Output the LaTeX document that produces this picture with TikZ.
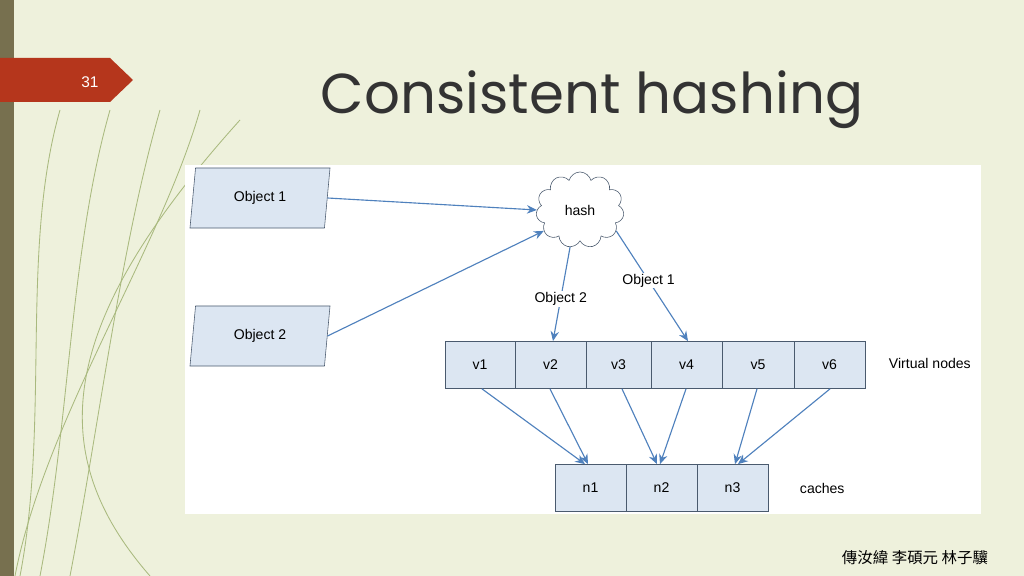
\documentclass[tikz,border=0pt]{standalone}
\usepackage{fontspec}
\setmainfont{Liberation Sans}
\newfontfamily\titlefont{Poppins}
\newfontfamily\cjk{Noto Sans CJK TC}
\usetikzlibrary{shapes.geometric,shapes.symbols,arrows.meta}
\definecolor{slidebg}{HTML}{EEF1DC}
\definecolor{barcol}{HTML}{77704F}
\definecolor{tabred}{HTML}{B5361C}
\definecolor{boxfill}{HTML}{DCE6F2}
\definecolor{boxline}{HTML}{4A5A6E}
\definecolor{arrowblue}{HTML}{4F81BD}
\definecolor{curvegreen}{HTML}{A9B97E}
\tikzset{
  objbox/.style={trapezium, trapezium left angle=67, trapezium right angle=113, trapezium stretches body,
    draw=boxline, fill=boxfill, minimum width=3.5cm, minimum height=1.5cm, inner sep=0pt,
    font=\fontsize{10}{12}\selectfont},
  vbox/.style={draw=boxline, fill=boxfill, minimum height=1.18cm, inner sep=0pt, font=\fontsize{10}{12}\selectfont},
  flow/.style={-{Stealth[length=7pt,width=6pt]}, draw=arrowblue, thick},
  plain/.style={font=\fontsize{10}{12}\selectfont}
}
\begin{document}
\begin{tikzpicture}[x=0.025cm, y=-0.025cm]
  \useasboundingbox (0,0) rectangle (1024,576);
  % slide background
  \fill[slidebg] (0,0) rectangle (1024,576);
  \fill[barcol] (0,0) rectangle (14,576);
  \foreach \a/\b in {20/60, 40/110, 70/160, 15/200} {
    \draw[curvegreen, semithick] (\a,576) .. controls (\a+30,420) and (\b-40,250) .. (\b,110);
  }
  \draw[curvegreen, semithick] (150,576) .. controls (40,450) and (60,320) .. (240,120);
  \fill[tabred] (0,58) -- (110,58) -- (133,80) -- (110,102) -- (0,102) -- cycle;
  \node[text=white, font=\fontsize{11}{13}\selectfont] (num) at (90,82) {31};
  \node[text=black!80, font=\titlefont\fontsize{40}{46}\selectfont] (title) at (592,100) {Consistent hashing};
  % diagram area
  \fill[white] (185,165) rectangle (981,514);
  \node[objbox] (obj1) at (260,198) {Object 1};
  \node[objbox] (obj2) at (260,336) {Object 2};
  \node[cloud, cloud puffs=11, aspect=1.3, draw=boxline, fill=white, minimum width=2.2cm, minimum height=1.9cm,
    font=\fontsize{10}{12}\selectfont] (hash) at (580,210) {hash};
  % virtual nodes
  \foreach \i/\xa/\xb in {1/445/515, 2/515/586, 3/586/651, 4/651/722, 5/722/794, 6/794/865} {
    \node[vbox, minimum width=(\xb-\xa)*0.025cm] (v\i) at ({(\xa+\xb)/2},365) {v\i};
  }
  \node[plain, anchor=west] (vlabel) at (884,363) {Virtual nodes};
  % caches
  \foreach \i/\xa/\xb in {1/555/626, 2/626/697, 3/697/768} {
    \node[vbox, minimum width=(\xb-\xa)*0.025cm] (n\i) at ({(\xa+\xb)/2},488) {n\i};
  }
  \node[plain, anchor=west] (clabel) at (795,488) {caches};
  % arrows
  \draw[flow] (obj1.east) -- (hash.west);
  \draw[flow] (obj2.east) -- (hash.210);
  \draw[flow] (hash.255) -- node[plain, fill=white, inner sep=1pt, pos=0.55] {Object 2} (553,0 |- v2.north);
  \draw[flow] (hash.330) -- node[plain, fill=white, inner sep=1pt, pos=0.45] {Object 1} (688,0 |- v4.north);
  \draw[flow] (482,0 |- v1.south) -- (585,0 |- n1.north);
  \draw[flow] (550,0 |- v2.south) -- (588,0 |- n1.north);
  \draw[flow] (622,0 |- v3.south) -- (657,0 |- n2.north);
  \draw[flow] (686,0 |- v4.south) -- (660,0 |- n2.north);
  \draw[flow] (757,0 |- v5.south) -- (735,0 |- n3.north);
  \draw[flow] (830,0 |- v6.south) -- (738,0 |- n3.north);
  \node[font=\cjk\fontsize{11}{13}\selectfont] (authors) at (915,558) {傳汝緯 李碩元 林子驥};
\end{tikzpicture}
\end{document}
